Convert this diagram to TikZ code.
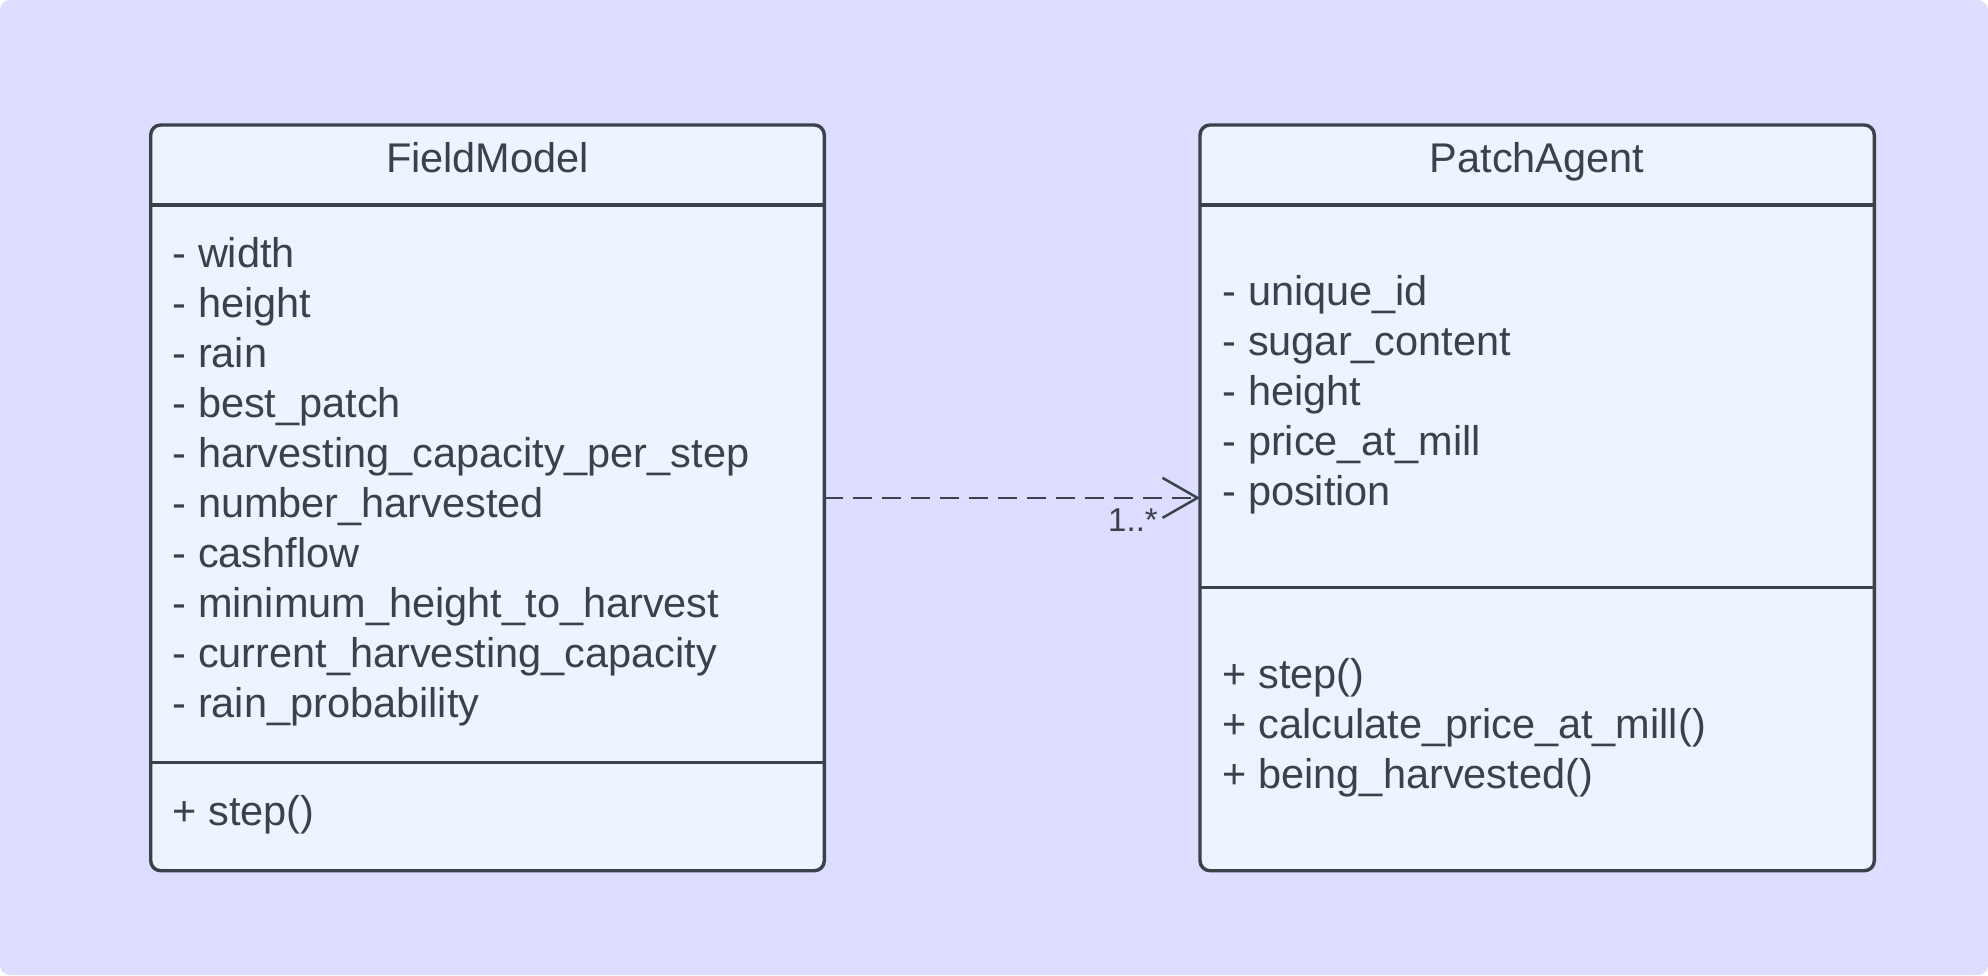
\documentclass[tikz,border=0pt]{standalone}
\usepackage{fontspec}
\setmainfont{Liberation Sans}
\usetikzlibrary{arrows.meta}
\definecolor{bgc}{HTML}{DDDEFF}
\definecolor{boxfill}{HTML}{EEF4FF}
\definecolor{ink}{HTML}{3A414A}
\tikzset{
  umlbox/.style={draw=ink, fill=boxfill, line width=3.4pt, rounded corners=10pt, inner sep=0pt, outer sep=0pt, rectangle},
  divider/.style={draw=ink, line width=3.4pt},
  title/.style={font=\fontsize{41.5}{50}\selectfont, text=ink, anchor=base, inner sep=0pt},
  member/.style={font=\fontsize{41.5}{50}\selectfont, text=ink, anchor=base west, inner sep=0pt},
  dep/.style={draw=ink, line width=2.5pt, dash pattern=on 19pt off 10pt, -{Straight Barb[length=35pt, width=40pt, line width=2.5pt]}},
  mult/.style={font=\fontsize{33}{38}\selectfont, text=ink, inner sep=0pt}
}
\begin{document}
\begin{tikzpicture}[x=1pt,y=-1pt]
\useasboundingbox (0,0) rectangle (1988,975);
\fill[white] (0,0) rectangle (1988,975);
\fill[bgc, rounded corners=10pt] (0,0) rectangle (1988,975);
% boxes
\node[umlbox, minimum width=673.6pt, minimum height=745.7pt] (fm) at (487.5,497.85) {};
\node[umlbox, minimum width=674.3pt, minimum height=745.7pt] (pa) at (1537.15,497.85) {};
% dividers
\draw[divider] (fm.west |- 0,205) -- (fm.east |- 0,205);
\draw[divider] (fm.west |- 0,762.7) -- (fm.east |- 0,762.7);
\draw[divider] (pa.west |- 0,205) -- (pa.east |- 0,205);
\draw[divider] (pa.west |- 0,587.7) -- (pa.east |- 0,587.7);
% titles
\node[title] (fmt) at (487.5,172.5) {FieldModel};
\node[title] (pat) at (1537.15,172.5) {PatchAgent};
% FieldModel attributes
\foreach \t [count=\i] in {- width, - height, - rain, - best\_patch, - harvesting\_capacity\_per\_step, - number\_harvested, - cashflow, - minimum\_height\_to\_harvest, - current\_harvesting\_capacity, - rain\_probability}
  \node[member] (fa\i) at (172.5,{217+50*\i}) {\t};
\node[member] (fm1) at (172.5,825) {+ step()};
% PatchAgent attributes
\foreach \t [count=\i] in {- unique\_id, - sugar\_content, - height, - price\_at\_mill, - position}
  \node[member] (pa\i) at (1222.5,{255+50*\i}) {\t};
\foreach \t [count=\i] in {+ step(), + calculate\_price\_at\_mill(), + being\_harvested()}
  \node[member] (pm\i) at (1222.5,{638+50*\i}) {\t};
% dependency
\draw[dep] (fm.east) -- (fm.east -| pa.west)
  node[mult, pos=1, anchor=base east, xshift=-41pt, yshift=-34pt] (m1) {1..*};
\end{tikzpicture}
\end{document}
